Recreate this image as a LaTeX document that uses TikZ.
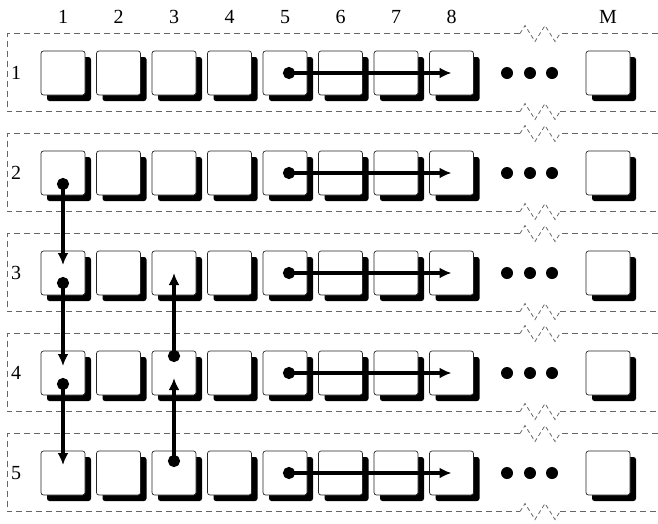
\documentclass[tikz,border=0pt]{standalone}
\usepackage{fontspec}
\setmainfont{Liberation Serif}
\usetikzlibrary{shadows,arrows.meta}

\tikzset{
  cell/.style={draw=black!85,fill=white,rounded corners=2.5pt,minimum size=44pt,inner sep=0pt,line width=0.7pt,
    drop shadow={shadow xshift=6pt,shadow yshift=-6pt,fill=black,opacity=1}},
  frame/.style={black!60,line width=0.8pt,dash pattern=on 6pt off 4pt},
  brk/.style={black!60,line width=0.8pt,dash pattern=on 4pt off 3pt},
  link/.style={line width=3.4pt,{Circle[length=12pt]}-{Latex[length=12pt,width=11pt]}},
  lbl/.style={font=\fontsize{20}{22}\selectfont,inner sep=0pt}
}

\begin{document}
\begin{tikzpicture}[x=1pt,y=-1pt]
\useasboundingbox (0,0) rectangle (658,523);
% column headers
\foreach \c in {1,...,8} \node[lbl] (h\c) at ({63+55.5*(\c-1)},17) {\c};
\node[lbl] (hM) at (608,17) {M};
% rows
\foreach \r in {1,...,5}{
  \pgfmathsetmacro\yc{73+100*(\r-1)}
  \pgfmathsetmacro\yt{\yc-39.5}
  \pgfmathsetmacro\yb{\yc+38.5}
  \draw[frame] (658,\yt) -- (560,\yt) (520,\yt) -- (7,\yt) -- (7,\yb) -- (520,\yb) (560,\yb) -- (658,\yb);
  \foreach \yy in {\yt,\yb}
    \draw[brk] (520,\yy) -- (525,\yy-8) -- (535,\yy+8) -- (545,\yy-8) -- (555,\yy+8) -- (560,\yy);
  \node[lbl] (r\r) at (16,\yc) {\r};
  \foreach \c in {1,...,8} \node[cell] (c\r-\c) at ({63+55.5*(\c-1)},\yc) {};
  \node[cell] (c\r-M) at (608,\yc) {};
  \foreach \d in {507,530,552} \fill (\d,\yc) circle (6pt);
  \draw[link] ([xshift=-2pt]c\r-5.center) -- (c\r-8.center);
}
% moves between rows
\draw[link] ([yshift=-5pt]c2-1.center) -- ([yshift=8pt]c3-1.center);
\draw[link] ([yshift=-4pt]c3-1.center) -- ([yshift=7pt]c4-1.center);
\draw[link] ([yshift=-5pt]c4-1.center) -- ([yshift=8pt]c5-1.center);
\draw[link] ([yshift=6pt]c5-3.center) -- ([yshift=-5pt]c4-3.center);
\draw[link] ([yshift=11pt]c4-3.center) -- (c3-3.center);
\end{tikzpicture}
\end{document}
